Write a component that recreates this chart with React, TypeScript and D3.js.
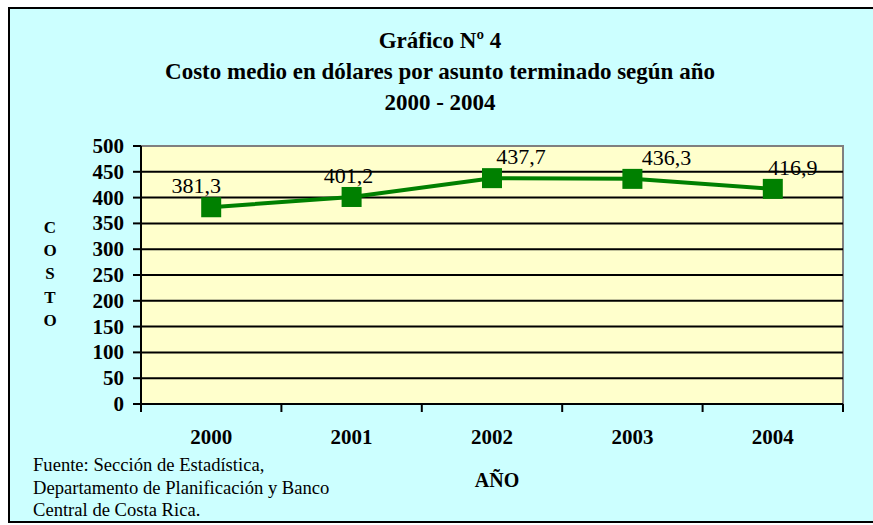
import * as d3 from "d3";
import React from "react";

const years = ["2000", "2001", "2002", "2003", "2004"];
const costs = [381.3, 401.2, 437.7, 436.3, 416.9];
const labelShift = [-15, -3, 29, 34, 20]; // labels were nudged by hand in the original
const yTicks = [0, 50, 100, 150, 200, 250, 300, 350, 400, 450, 500];
const titleLines = ["Gráfico Nº 4", "Costo medio en dólares por asunto terminado según año", "2000 - 2004"];
const sourceLines = ["Fuente: Sección de Estadística,", "Departamento de Planificación y Banco", "Central de Costa Rica."];
const yTitle = ["C", "O", "S", "T", "O"];

const App = () => {
  const width = 873;
  const height = 525;
  const font = "'Liberation Serif', 'Times New Roman', Times, serif";

  const plot = { left: 141, top: 146, right: 843, bottom: 404 };

  const xScale = d3.scaleBand().domain(years).range([plot.left, plot.right]);
  const yScale = d3.scaleLinear().domain([0, 500]).range([plot.bottom, plot.top]);

  const cx = (d: string) => (xScale(d) as number) + xScale.bandwidth() / 2;

  const linePath = d3
    .line<number>()
    .x((_, i) => cx(years[i]))
    .y((d) => yScale(d))(costs);

  const boundaries = years.map((d) => xScale(d) as number).concat([plot.right]);

  return (
    <svg width={width} height={height} style={{ position: "absolute", left: 0, top: 0, fontFamily: font }}>
      <rect x={0} y={0} width={width} height={height} fill="#fff" />
      {/* outer chart box */}
      <rect x={9} y={8} width={width + 10} height={514} fill="#CCFFFF" stroke="#000" strokeWidth={2} />

      {titleLines.map((t, i) => (
        <text key={i} x={440} y={48 + i * 31} textAnchor="middle" fontWeight="bold" fontSize={23}>
          {t}
        </text>
      ))}

      {/* plot area */}
      <rect x={plot.left} y={plot.top} width={plot.right - plot.left} height={plot.bottom - plot.top} fill="#FFFFCC" stroke="#808080" strokeWidth={2} />
      {yTicks.slice(1, -1).map((t) => (
        <line key={t} x1={plot.left} x2={plot.right} y1={yScale(t)} y2={yScale(t)} stroke="#000" strokeWidth={2} />
      ))}

      {/* y axis */}
      <line x1={plot.left} x2={plot.left} y1={plot.top} y2={plot.bottom} stroke="#000" strokeWidth={2} />
      {yTicks.map((t) => (
        <g key={t}>
          <line x1={plot.left - 8} x2={plot.left} y1={yScale(t)} y2={yScale(t)} stroke="#000" strokeWidth={2} />
          <text x={124} y={yScale(t) + 7} textAnchor="end" fontWeight="bold" fontSize={21}>
            {t}
          </text>
        </g>
      ))}

      {/* x axis */}
      <line x1={plot.left} x2={plot.right} y1={plot.bottom} y2={plot.bottom} stroke="#000" strokeWidth={2} />
      {boundaries.map((b, i) => (
        <line key={i} x1={b} x2={b} y1={plot.bottom} y2={plot.bottom + 8} stroke="#000" strokeWidth={2} />
      ))}
      {years.map((y) => (
        <text key={y} x={cx(y)} y={444} textAnchor="middle" fontWeight="bold" fontSize={21}>
          {y}
        </text>
      ))}

      {/* series */}
      <path d={linePath as string} fill="none" stroke="#008000" strokeWidth={4} />
      {costs.map((c, i) => (
        <rect key={i} x={cx(years[i]) - 10} y={yScale(c) - 10} width={20} height={20} fill="#008000" />
      ))}
      {costs.map((c, i) => (
        <text key={i} x={cx(years[i]) + labelShift[i]} y={yScale(c) - 14} textAnchor="middle" fontSize={22}>
          {d3.format(".1f")(c).replace(".", ",")}
        </text>
      ))}

      {/* axis titles */}
      {yTitle.map((l, i) => (
        <text key={i} x={50} y={233 + i * 23.2} textAnchor="middle" fontWeight="bold" fontSize={17}>
          {l}
        </text>
      ))}
      <text x={497} y={487} textAnchor="middle" fontWeight="bold" fontSize={20}>
        AÑO
      </text>

      {sourceLines.map((s, i) => (
        <text key={i} x={33} y={471} dy={i * 22.5} fontSize={18.6}>
          {s}
        </text>
      ))}
    </svg>
  );
};

export default App;
